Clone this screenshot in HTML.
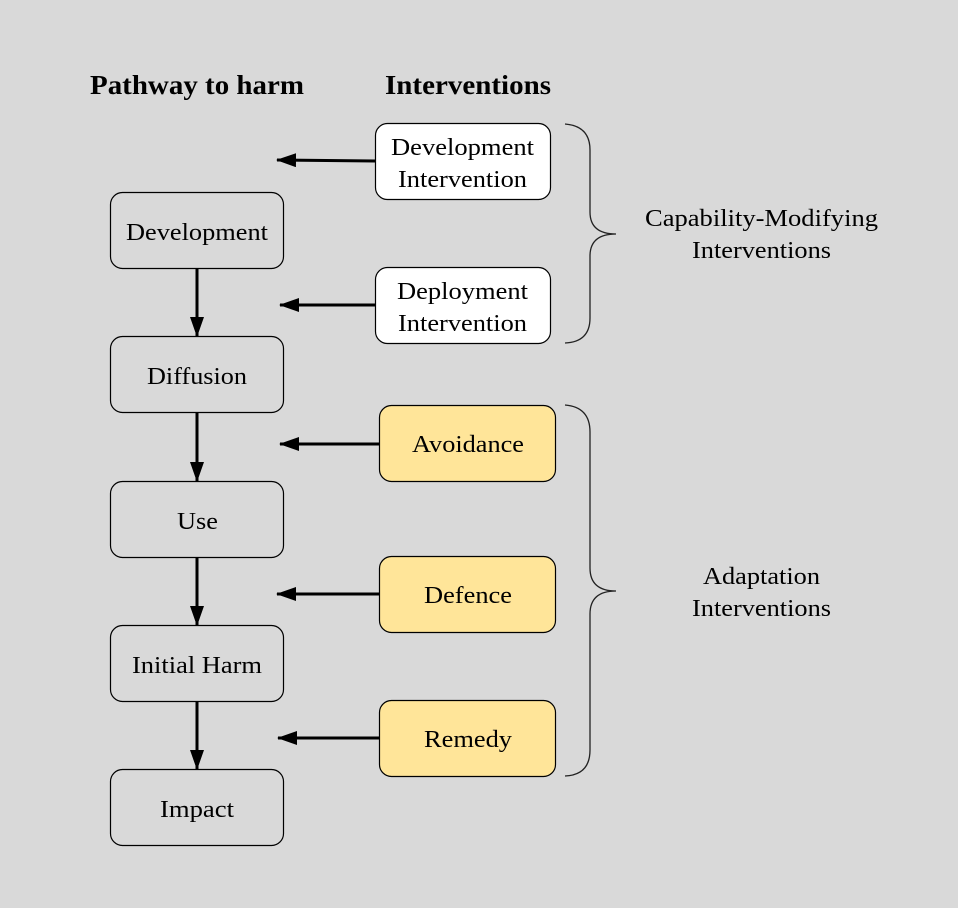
<!DOCTYPE html>
<html><head><meta charset="utf-8"><style>
html,body{margin:0;padding:0;background:#d9d9d9;}
svg{display:block;}
text{font-family:"Liberation Serif","DejaVu Serif",serif;fill:#000;}
</style></head><body>
<svg width="958" height="908" viewBox="0 0 958 908" xmlns="http://www.w3.org/2000/svg">
<rect width="958" height="908" fill="#d9d9d9"/>
<defs>
<marker id="ah" markerWidth="20" markerHeight="14" refX="19" refY="7" orient="auto" markerUnits="userSpaceOnUse">
<path d="M0,0 L20,7 L0,14 Z" fill="#000"/></marker>
</defs>
<g font-size="27" font-weight="bold" lengthAdjust="spacingAndGlyphs">
<text x="90" y="94" textLength="214" lengthAdjust="spacingAndGlyphs">Pathway to harm</text>
<text x="385" y="94" textLength="166" lengthAdjust="spacingAndGlyphs">Interventions</text>
</g>

<g stroke="#000" stroke-width="1.2" fill="#d9d9d9">
<rect x="110.5" y="192.5" width="173" height="76" rx="12"/>
<rect x="110.5" y="336.5" width="173" height="76" rx="12"/>
<rect x="110.5" y="481.5" width="173" height="76" rx="12"/>
<rect x="110.5" y="625.5" width="173" height="76" rx="12"/>
<rect x="110.5" y="769.5" width="173" height="76" rx="12"/>
<rect x="375.5" y="123.5" width="175" height="76" rx="12" fill="#fff"/>
<rect x="375.5" y="267.5" width="175" height="76" rx="12" fill="#fff"/>
<rect x="379.5" y="405.5" width="176" height="76" rx="12" fill="#ffe599"/>
<rect x="379.5" y="556.5" width="176" height="76" rx="12" fill="#ffe599"/>
<rect x="379.5" y="700.5" width="176" height="76" rx="12" fill="#ffe599"/>
</g>

<g font-size="24">
<text x="126" y="240" textLength="142" lengthAdjust="spacingAndGlyphs">Development</text>
<text x="147" y="384" textLength="100" lengthAdjust="spacingAndGlyphs">Diffusion</text>
<text x="177" y="529" textLength="41" lengthAdjust="spacingAndGlyphs">Use</text>
<text x="132" y="673" textLength="130" lengthAdjust="spacingAndGlyphs">Initial Harm</text>
<text x="160" y="817" textLength="74" lengthAdjust="spacingAndGlyphs">Impact</text>
<text x="391" y="155" textLength="143" lengthAdjust="spacingAndGlyphs">Development</text>
<text x="398" y="187" textLength="129" lengthAdjust="spacingAndGlyphs">Intervention</text>
<text x="397" y="299" textLength="131" lengthAdjust="spacingAndGlyphs">Deployment</text>
<text x="398" y="331" textLength="129" lengthAdjust="spacingAndGlyphs">Intervention</text>
<text x="412" y="452" textLength="112" lengthAdjust="spacingAndGlyphs">Avoidance</text>
<text x="424" y="603" textLength="88" lengthAdjust="spacingAndGlyphs">Defence</text>
<text x="424" y="747" textLength="88" lengthAdjust="spacingAndGlyphs">Remedy</text>
<text x="645" y="226" textLength="233" lengthAdjust="spacingAndGlyphs">Capability-Modifying</text>
<text x="692" y="258" textLength="139" lengthAdjust="spacingAndGlyphs">Interventions</text>
<text x="703" y="584" textLength="117" lengthAdjust="spacingAndGlyphs">Adaptation</text>
<text x="692" y="616" textLength="139" lengthAdjust="spacingAndGlyphs">Interventions</text>
</g>

<g stroke="#000" stroke-width="3" fill="none">
<line x1="197" y1="269" x2="197" y2="336" marker-end="url(#ah)"/>
<line x1="197" y1="413" x2="197" y2="481" marker-end="url(#ah)"/>
<line x1="197" y1="558" x2="197" y2="625" marker-end="url(#ah)"/>
<line x1="197" y1="702" x2="197" y2="769" marker-end="url(#ah)"/>
<line x1="375" y1="161" x2="277" y2="160" marker-end="url(#ah)"/>
<line x1="375" y1="305" x2="280" y2="305" marker-end="url(#ah)"/>
<line x1="379" y1="444" x2="280" y2="444" marker-end="url(#ah)"/>
<line x1="379" y1="594" x2="277" y2="594" marker-end="url(#ah)"/>
<line x1="379" y1="738" x2="278" y2="738" marker-end="url(#ah)"/>
</g>

<g stroke="#222" stroke-width="1.3" fill="none">
<path d="M565,124 Q590,126 590,150 L590,212 Q590,234 616,234 Q590,234 590,256 L590,318 Q590,342 565,343"/>
<path d="M565,405 Q590,407 590,432 L590,568 Q590,591 616,591 Q590,591 590,614 L590,750 Q590,775 565,776"/>
</g>
</svg>
</body></html>
